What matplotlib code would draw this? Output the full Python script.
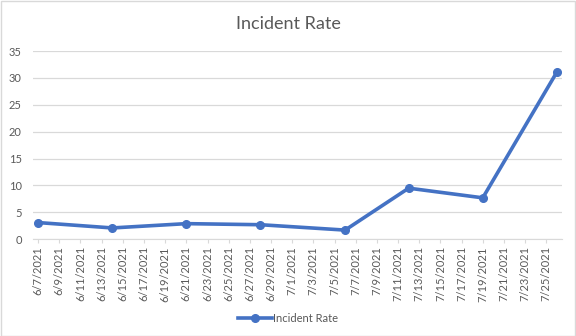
import datetime as dt

import matplotlib
matplotlib.use("Agg")
import matplotlib.pyplot as plt
import matplotlib.dates as mdates
import matplotlib.ticker as ticker

dates = ["2021-06-07", "2021-06-14", "2021-06-21", "2021-06-28",
         "2021-07-06", "2021-07-12", "2021-07-19", "2021-07-26"]
incident_rate = [3.1, 2.1, 2.9, 2.7, 1.7, 9.5, 7.7, 31.1]
y_ticks = [0, 5, 10, 15, 20, 25, 30, 35]

plt.rcParams['font.family'] = ['Lato', 'DejaVu Sans']
text_color = '#595959'
line_color = '#4472C4'

x = [dt.datetime.strptime(d, "%Y-%m-%d") for d in dates]

fig = plt.figure(figsize=(5.76, 3.36), dpi=100)
ax = fig.add_axes([0.057, 0.288, 0.919, 0.56])

ax.plot(x, incident_rate, color=line_color, linewidth=2.6, marker='o',
        markersize=5.5, label='Incident Rate', zorder=3)

half = dt.timedelta(hours=12)
ax.set_xlim(x[0] - half, x[-1] + half)
ax.set_ylim(0, 35)
ax.set_yticks(y_ticks)
ax.grid(axis='y', color='#d9d9d9', linewidth=0.9)
ax.set_axisbelow(True)

# a label every second day, as on the reference
ax.set_xticks([mdates.date2num(x[0] + dt.timedelta(days=2 * i)) for i in range(25)])


def fmt_date(value, pos):
    d = mdates.num2date(value)
    return f"{d.month}/{d.day}/{d.year}"


ax.xaxis.set_major_formatter(ticker.FuncFormatter(fmt_date))
for lbl in ax.get_xticklabels():
    lbl.set_rotation(90)

for side in ['top', 'right', 'left']:
    ax.spines[side].set_visible(False)
ax.spines['bottom'].set_color('#d9d9d9')
ax.tick_params(axis='x', colors='#d9d9d9', labelcolor=text_color, labelsize=8,
               length=3, direction='out', pad=2)
ax.tick_params(axis='y', length=0, labelcolor=text_color, labelsize=8, pad=8)

fig.text(0.5, 0.93, 'Incident Rate', ha='center', va='center',
         fontsize=13, color=text_color)

fig.legend(loc='center', bbox_to_anchor=(0.5, 0.053), frameon=False,
           fontsize=8, labelcolor=text_color, handlelength=3.0,
           handletextpad=0.1)

fig.patches.append(plt.Rectangle((0.001, 0.001), 0.997, 0.997, transform=fig.transFigure,
                                 fill=False, edgecolor='#d9d9d9', linewidth=1))

fig.savefig("out.png", dpi=100)
